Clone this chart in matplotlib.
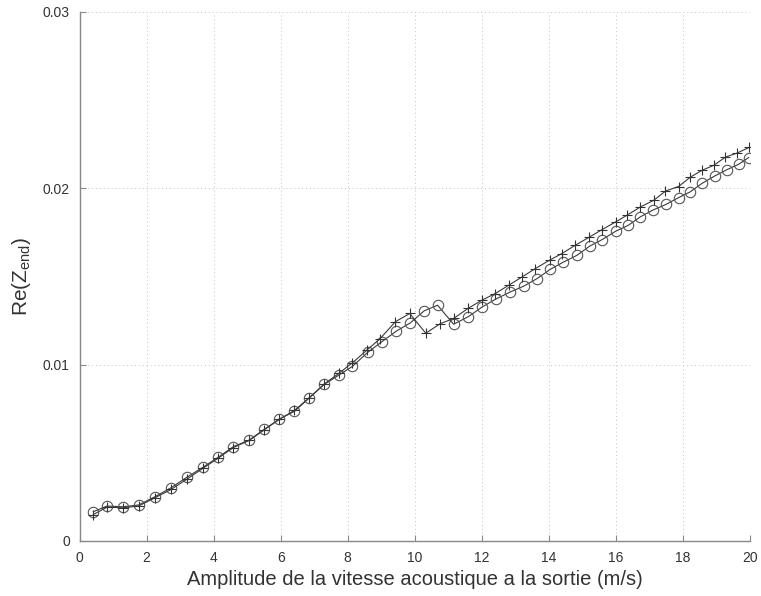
import matplotlib
matplotlib.use("Agg")
import matplotlib.pyplot as plt

# amplitude (m/s) and Re(Z_end)
x_circ = [0.41, 0.82, 1.29, 1.76, 2.25, 2.73, 3.20, 3.68, 4.14, 4.59, 5.06, 5.51,
          5.96, 6.41, 6.84, 7.30, 7.73, 8.14, 8.60, 9.02, 9.45, 9.87, 10.28, 10.68,
          11.16, 11.59, 12.02, 12.43, 12.85, 13.25, 13.65, 14.04, 14.42, 14.84, 15.22, 15.59,
          15.99, 16.37, 16.73, 17.11, 17.50, 17.87, 18.22, 18.57, 18.97, 19.32, 19.66, 19.96]
y_circ = [0.00166, 0.00198, 0.00194, 0.00204, 0.00251, 0.00302, 0.00361, 0.00418, 0.00475, 0.00535, 0.00572, 0.00633,
          0.00691, 0.00735, 0.00809, 0.00888, 0.00940, 0.00990, 0.01070, 0.01130, 0.01190, 0.01237, 0.01305, 0.01337,
          0.01229, 0.01271, 0.01328, 0.01373, 0.01412, 0.01445, 0.01488, 0.01540, 0.01580, 0.01620, 0.01672, 0.01709,
          0.01756, 0.01790, 0.01838, 0.01877, 0.01909, 0.01947, 0.01980, 0.02028, 0.02072, 0.02106, 0.02136, 0.02174]

x_plus = [0.41, 0.82, 1.29, 1.76, 2.25, 2.73, 3.20, 3.68, 4.14, 4.59, 5.06, 5.51,
          5.96, 6.41, 6.84, 7.30, 7.73, 8.14, 8.57, 8.97, 9.42, 9.85, 10.33, 10.76,
          11.16, 11.60, 12.00, 12.40, 12.80, 13.20, 13.60, 14.02, 14.39, 14.79, 15.19, 15.59,
          15.99, 16.33, 16.73, 17.13, 17.48, 17.87, 18.22, 18.57, 18.92, 19.27, 19.62, 19.98]
y_plus = [0.00150, 0.00192, 0.00188, 0.00198, 0.00245, 0.00292, 0.00350, 0.00412, 0.00470, 0.00530, 0.00570, 0.00630,
          0.00690, 0.00740, 0.00810, 0.00890, 0.00950, 0.01010, 0.01082, 0.01148, 0.01243, 0.01290, 0.01178, 0.01232,
          0.01262, 0.01320, 0.01365, 0.01403, 0.01450, 0.01497, 0.01545, 0.01592, 0.01630, 0.01677, 0.01721, 0.01766,
          0.01809, 0.01847, 0.01894, 0.01932, 0.01984, 0.02010, 0.02063, 0.02102, 0.02130, 0.02177, 0.02200, 0.02232]

xticks = [0, 2, 4, 6, 8, 10, 12, 14, 16, 18, 20]
yticks = [0, 0.01, 0.02, 0.03]
ytick_labels = ["0", "0.01", "0.02", "0.03"]

plt.rcParams['font.family'] = ['Liberation Sans', 'DejaVu Sans']

fig = plt.figure(figsize=(7.61, 5.96), dpi=100)
ax = fig.add_axes([0.1045, 0.0923, 0.881, 0.8877])

line_col = '#3a3a3a'
ax.plot(x_circ, y_circ, '-', color=line_col, lw=0.8, marker='o', markersize=7.5,
        markerfacecolor='none', markeredgecolor='#555555', markeredgewidth=0.8)
ax.plot(x_plus, y_plus, '-', color=line_col, lw=0.8, marker='+', markersize=6.5,
        markeredgecolor='#333333', markeredgewidth=0.8)

ax.set_xlim(0, 20)
ax.set_ylim(0, 0.03)
ax.set_xticks(xticks)
ax.set_yticks(yticks)
ax.set_yticklabels(ytick_labels)

ax.grid(True, linestyle=(0, (1, 3)), color='#c4c4c4', lw=0.7)
for s in ['top', 'right']:
    ax.spines[s].set_visible(False)
for s in ['left', 'bottom']:
    ax.spines[s].set_color('#888888')
    ax.spines[s].set_linewidth(1.0)
ax.tick_params(direction='in', length=4, width=0.8, color='#888888',
               labelsize=10, labelcolor='#333333', pad=7)

ax.set_xlabel('Amplitude de la vitesse acoustique a la sortie (m/s)', fontsize=14.5, color='#333333', labelpad=4)
ax.set_ylabel(r'$\mathregular{Re(Z_{end})}$', fontsize=15, color='#333333', labelpad=7)

fig.savefig('out.png', dpi=100)
